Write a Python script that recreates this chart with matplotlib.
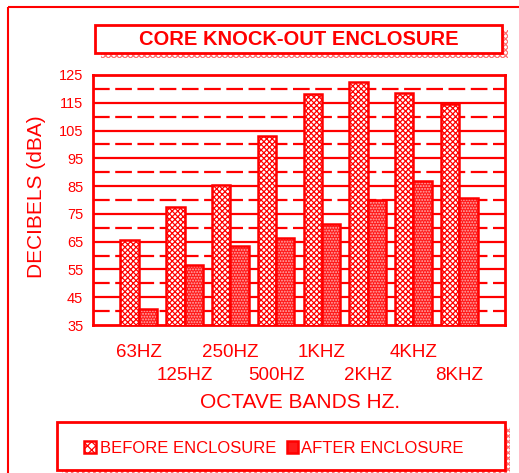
import numpy as np
import matplotlib
matplotlib.use("Agg")
import matplotlib.pyplot as plt
from matplotlib.patches import Rectangle

# ---- data ----
bands = ["63HZ", "125HZ", "250HZ", "500HZ", "1KHZ", "2KHZ", "4KHZ", "8KHZ"]
before = [65.5, 77.5, 85.3, 103, 118.3, 122.3, 118.6, 114.7]
after = [40.8, 56.5, 63.4, 66.4, 71.2, 80.0, 86.8, 80.7]
yticks = [35, 45, 55, 65, 75, 85, 95, 105, 115, 125]
title = "CORE KNOCK-OUT ENCLOSURE"
ylabel = "DECIBELS (dBA)"
xlabel = "OCTAVE BANDS HZ."
legend_labels = ["BEFORE ENCLOSURE", "AFTER ENCLOSURE"]

RED = "#ff0000"
W, H = 519, 473
plt.rcParams["font.family"] = ["Liberation Sans", "DejaVu Sans"]
plt.rcParams["hatch.linewidth"] = 0.9

fig = plt.figure(figsize=(W / 100, H / 100), dpi=100)
fig.patch.set_facecolor("white")

# overlay (figure pixel coordinates) for decorative frames
ov = fig.add_axes([0, 0, 1, 1], zorder=-1)
ov.set_xlim(0, W)
ov.set_ylim(H, 0)
ov.axis("off")
ov.patch.set_alpha(0)

# outer frame
ov.add_patch(Rectangle((8, 7), 540, 500, fill=False, edgecolor=RED, lw=1.5))
# title box with hatched shadow
ov.add_patch(Rectangle((101, 30), 407, 28, facecolor="white", edgecolor="#ff7070",
                       hatch="xxxxxx", lw=0))
ov.add_patch(Rectangle((95, 25), 407, 28, facecolor="white", edgecolor=RED, lw=2))
ov.text(299, 39.5, title, color=RED, fontsize=14.5, fontweight="bold",
        ha="center", va="center")
# legend box with hatched shadow
ov.add_patch(Rectangle((62, 427), 448, 60, facecolor="white", edgecolor="#ff7070",
                       hatch="xxxxxx", lw=0))
ov.add_patch(Rectangle((57, 422), 448, 48, facecolor="white", edgecolor=RED, lw=2))

# main axes
ax = fig.add_axes([93 / W, 1 - 325 / H, 412 / W, 250 / H])
x = np.arange(len(bands))
bw = 0.4

# gridlines
for v in yticks[1:-1]:
    ax.axhline(v, color=RED, lw=1.6, zorder=1)
for v in np.array(yticks[:-1]) + 5:
    ax.axhline(v, color=RED, lw=1.6, linestyle=(0, (7.5, 2.5)), zorder=1)

# bars
ax.bar(x - bw / 2, before, width=bw, facecolor="white", edgecolor=RED,
       hatch="xxxxxx", lw=1.8, zorder=3)
ax.bar(x + bw / 2, after, width=bw, facecolor="#ff1a1a", edgecolor="#ffb0b0",
       hatch="......", lw=0, zorder=3)
ax.bar(x + bw / 2, after, width=bw, fill=False, edgecolor=RED, lw=1.8, zorder=4)

ax.set_xlim(-1, 8)
ax.set_ylim(35, 125)
ax.set_yticks(yticks)
ax.set_yticklabels([str(v) for v in yticks])
ax.set_xticks(x)
ax.set_xticklabels([])
for i, b in enumerate(bands):
    ax.text(x[i], -0.108 if i % 2 == 0 else -0.2, b, color=RED, fontsize=13.5,
            ha="center", va="center", transform=ax.get_xaxis_transform())
ax.tick_params(axis="y", length=0, pad=7, labelsize=10.5, labelcolor=RED)
ax.tick_params(axis="x", length=0)
for s in ax.spines.values():
    s.set_color(RED)
    s.set_linewidth(2)

fig.text(37 / W, 1 - 197 / H, ylabel, rotation=90, color=RED, fontsize=15,
         ha="center", va="center")
fig.text(300 / W, 1 - 402 / H, xlabel, color=RED, fontsize=15,
         ha="center", va="center")

# legend
lax = fig.add_axes([0, 0, 1, 1], zorder=2)
lax.set_xlim(0, W)
lax.set_ylim(H, 0)
lax.axis("off")
lax.patch.set_alpha(0)
lax.add_patch(Rectangle((84, 441), 12, 12, facecolor="white", edgecolor=RED,
                        hatch="xxxx", lw=1.8))
lax.text(100, 448, legend_labels[0], color=RED, fontsize=12, ha="left", va="center")
lax.add_patch(Rectangle((287, 441), 11, 12, facecolor="#ff1a1a", edgecolor=RED, lw=1.8))
lax.text(301, 448, legend_labels[1], color=RED, fontsize=12, ha="left", va="center")

fig.savefig("out.png", dpi=100, facecolor="white")
